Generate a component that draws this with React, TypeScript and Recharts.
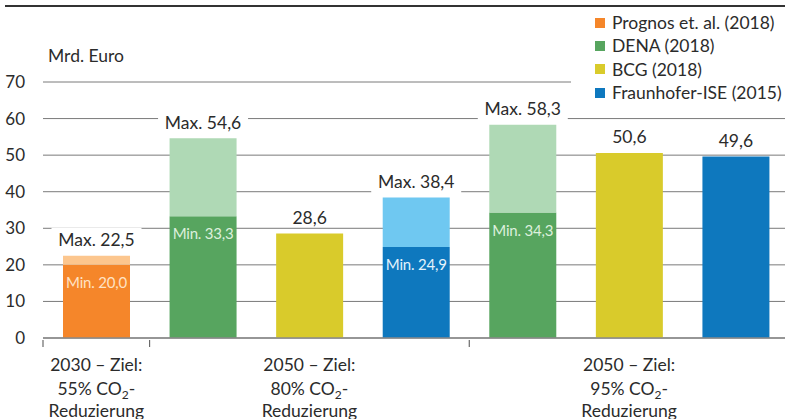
import React from "react";
import { BarChart, Bar, XAxis, YAxis, CartesianGrid, Cell, LabelList } from "recharts";

// Kostenschätzungen in Mrd. Euro
const categories = ["Prognos 55", "DENA 80", "BCG 80", "ISE 80", "DENA 95", "BCG 95", "ISE 95"];
const minValues = [20.0, 33.3, 28.6, 24.9, 34.3, 50.6, 49.6];
const maxValues: (number | null)[] = [22.5, 54.6, null, 38.4, 58.3, null, null];
const barSource = [0, 1, 2, 3, 1, 2, 3];

const sources = ["Prognos et. al. (2018)", "DENA (2018)", "BCG (2018)", "Fraunhofer-ISE (2015)"];
const sourceColors = ["#F5862A", "#57A55F", "#D9CB2B", "#0E78BE"];
const lightColors = ["#FCC68E", "#AFD9B5", "#D9CB2B", "#6FC8F1"];
const minLabelColors = ["#FFE2C4", "#DDF0DD", "#FFFFFF", "#E4F3FC"];

const yTicks = [0, 10, 20, 30, 40, 50, 60, 70];

// group label sits under the middle bar of the group
const groupLabels = [
  { index: 0, year: "2030 – Ziel:", pct: "55%" },
  { index: 2, year: "2050 – Ziel:", pct: "80%" },
  { index: 5, year: "2050 – Ziel:", pct: "95%" },
];
const groupStarts = [0, 1, 4];

const data = categories.map((name, i) => ({
  name,
  base: minValues[i],
  extra: maxValues[i] != null ? (maxValues[i] as number) - minValues[i] : 0,
  max: maxValues[i],
  src: barSource[i],
}));

const fmt = (v: number) => v.toFixed(1).replace(".", ",");
const FONT = "Lato, 'Noto Sans', sans-serif";
const FS = 17.5;
const TEXT = "#2b2b2b";

const BaseLabel = (props: any) => {
  const { x, y, width, index } = props;
  const cx = x + width / 2;
  if (maxValues[index] != null) {
    return (
      <text x={cx} y={y + 17} textAnchor="middle" dominantBaseline="central" fontSize={15} letterSpacing={-0.2} fill={minLabelColors[barSource[index]]} fontFamily={FONT}>
        {"Min. " + fmt(minValues[index])}
      </text>
    );
  }
  return (
    <text x={cx} y={y - 16} textAnchor="middle" dominantBaseline="central" fontSize={FS} fill={TEXT} fontFamily={FONT}>
      {fmt(minValues[index])}
    </text>
  );
};

const MaxLabel = (props: any) => {
  const { x, y, width, value } = props;
  if (value == null || value === "") return null;
  const cx = x + width / 2;
  return (
    <g>
      <rect x={cx - 45} y={y - 28} width={90} height={24} fill="#fff" />
      <text x={cx} y={y - 16} textAnchor="middle" dominantBaseline="central" fontSize={FS} fill={TEXT} fontFamily={FONT}>
        {"Max. " + fmt(Number(value))}
      </text>
    </g>
  );
};

const GroupTick = (props: any) => {
  const { x, y, payload } = props;
  const index = payload.index;
  const half = payload.offset || 53;
  const marks: number[] = [];
  if (groupStarts.includes(index)) marks.push(x - half);
  if (index === categories.length - 1) marks.push(x + half);
  const g = groupLabels.find((l) => l.index === index);
  return (
    <g>
      {marks.map((mx, k) => (
        <line key={k} x1={mx} x2={mx} y1={y} y2={y + 7} stroke="#6a6a6a" strokeWidth={1.2} />
      ))}
      {g && (
        <text textAnchor="middle" fontSize={FS} fill={TEXT} fontFamily={FONT}>
          <tspan x={x} y={y + 31}>{g.year}</tspan>
          <tspan x={x} y={y + 55}>{g.pct + " CO"}</tspan>
          <tspan fontSize={12} dy={4}>2</tspan>
          <tspan dy={-4}>-</tspan>
          <tspan x={x} y={y + 77}>Reduzierung</tspan>
        </text>
      )}
    </g>
  );
};

export default function App() {
  return (
    <div style={{ position: "absolute", left: 0, top: 0, width: 785, height: 419, overflow: "hidden", background: "#fff", fontFamily: FONT }}>
      <div style={{ position: "absolute", left: 5, right: 0, top: 5, height: 2, background: "#333" }} />
      <BarChart width={789} height={419} data={data} margin={{ top: 82, right: 0, bottom: 0, left: 0 }}>
        <CartesianGrid vertical={false} stroke="#7a7a7a" strokeWidth={1} />
        <YAxis
          domain={[0, 70]}
          ticks={yTicks}
          width={43}
          axisLine={false}
          tickLine={false}
          tickSize={0}
          tickMargin={18}
          tick={{ fontSize: 17, fill: TEXT, fontFamily: FONT }}
        />
        <XAxis
          dataKey="name"
          height={81}
          tickSize={0}
          tickLine={false}
          axisLine={{ stroke: "#8a8a8a", strokeWidth: 1.5 }}
          tick={<GroupTick />}
          interval={0}
        />
        <Bar dataKey="base" stackId="a" barSize={67} isAnimationActive={false}>
          {data.map((_, i) => (
            <Cell key={i} fill={sourceColors[barSource[i]]} />
          ))}
          <LabelList dataKey="base" content={<BaseLabel />} />
        </Bar>
        <Bar dataKey="extra" stackId="a" barSize={67} isAnimationActive={false}>
          {data.map((_, i) => (
            <Cell key={i} fill={lightColors[barSource[i]]} />
          ))}
          <LabelList dataKey="max" content={<MaxLabel />} />
        </Bar>
      </BarChart>
      <div style={{ position: "absolute", left: 48, top: 45, fontSize: FS, lineHeight: "22px", color: TEXT }}>Mrd. Euro</div>
      <div style={{ position: "absolute", left: 571, top: 10, width: 214, height: 96, background: "#fff" }}>
        {sources.map((s, i) => (
          <div key={s} style={{ position: "absolute", left: 24, top: 1 + i * 23.4, height: 23, display: "flex", alignItems: "center", fontSize: FS, color: TEXT, whiteSpace: "nowrap" }}>
            <span style={{ display: "inline-block", width: 10, height: 10, background: sourceColors[i], marginRight: 7 }} />
            {s}
          </div>
        ))}
      </div>
    </div>
  );
}
